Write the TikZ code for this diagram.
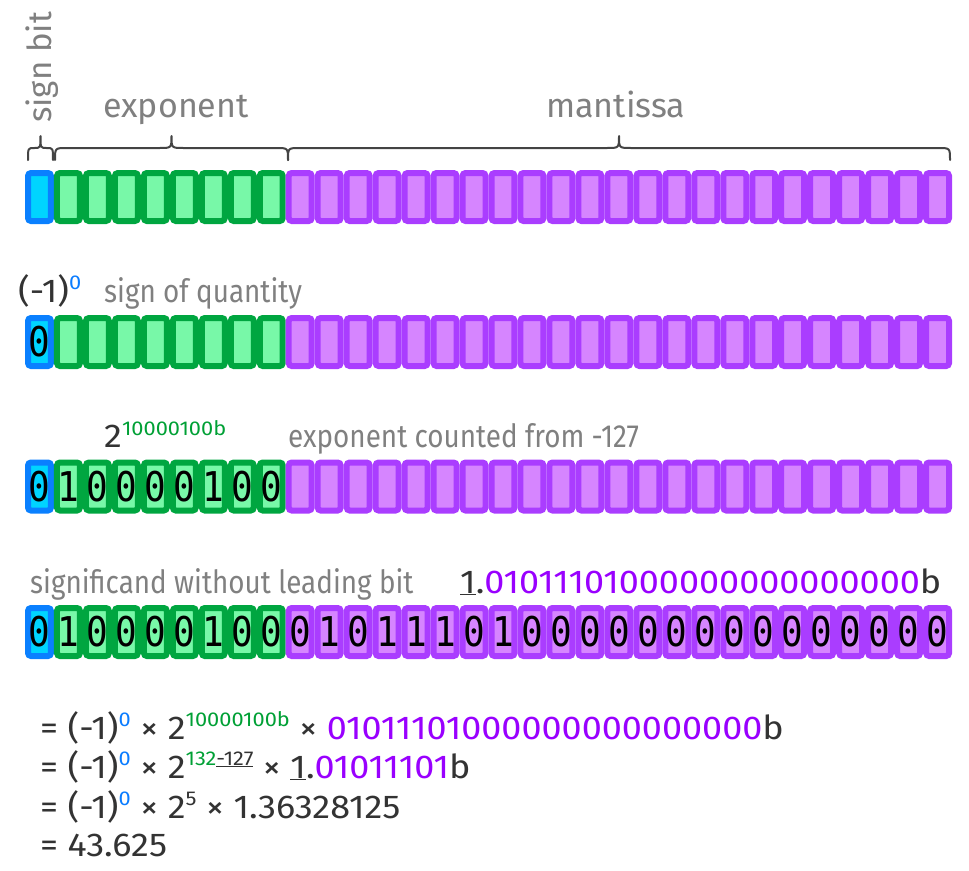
\documentclass[tikz,border=0pt]{standalone}
\usepackage{fontspec}
\setmainfont{Fira Sans}
\newfontfamily\bitfont[FakeStretch=0.88]{DejaVu Sans Mono}
\newfontfamily\eqfont[FakeStretch=1.09]{Fira Sans}
\newfontfamily\labfont[FakeStretch=0.87]{Fira Sans}
\definecolor{signD}{HTML}{0A80FF}
\definecolor{signL}{HTML}{00D4FF}
\definecolor{expD}{HTML}{00A640}
\definecolor{expL}{HTML}{78F8A8}
\definecolor{manD}{HTML}{AA3DFF}
\definecolor{manL}{HTML}{D685FF}
\definecolor{txt}{HTML}{333333}
\definecolor{lbl}{HTML}{808080}
\definecolor{bluet}{HTML}{0A7CFF}
\definecolor{greent}{HTML}{00A035}
\definecolor{purpt}{HTML}{9900FF}
\definecolor{brc}{HTML}{444444}
\newcommand\mysup[3][13pt]{\raisebox{#1}{\fontsize{20}{20}\selectfont\textcolor{#2}{#3}}}
\newcommand\bitchar[1]{\if#1n\else#1\fi}
\tikzset{
 cell/.style={minimum width=22.97pt, minimum height=48pt, inner sep=0pt, line width=6pt, rounded corners=3pt, font=\bitfont\fontsize{41}{41}\selectfont, text=black},
 signcell/.style={cell, draw=signD, fill=signL},
 expcell/.style={cell, draw=expD, fill=expL},
 mancell/.style={cell, draw=manD, fill=manL},
 toplab/.style={inner sep=0pt, anchor=base west, text=lbl, font=\fontsize{34}{40}\selectfont},
 lab/.style={inner sep=0pt, anchor=base west, text=lbl, font=\labfont\fontsize{32}{40}\selectfont},
 eq/.style={inner sep=0pt, anchor=base west, text=txt, font=\eqfont\fontsize{33}{40}\selectfont},
 bracestyle/.style={draw=brc, line width=2pt, line cap=round, line join=round}
}
\newcommand\bitrow[5]{%
 \node[signcell] (#1s) at ({25+0.5*28.97},#2) {\bitchar{#3}};
 \foreach \b [count=\i] in {#4} \node[expcell] (#1e\i) at ({25+(\i+0.5)*28.97},#2) {\bitchar{\b}};
 \foreach \b [count=\i] in {#5} \node[mancell] (#1m\i) at ({25+(\i+8.5)*28.97},#2) {\bitchar{\b}};
}
\newcommand\mybrace[3]{%
 \pgfmathsetmacro\xm{(#1+#2)/2}
 \draw[bracestyle] (#1,160) .. controls (#1,148) .. ({#1+#3},148) -- ({\xm-#3},148) .. controls (\xm,148) .. (\xm,136) .. controls (\xm,148) .. ({\xm+#3},148) -- ({#2-#3},148) .. controls (#2,148) .. (#2,160);
}
\begin{document}
\begin{tikzpicture}[x=1pt,y=-1pt]
\useasboundingbox (0,0) rectangle (969,870);
% row 1
\bitrow{a}{197}{n}{n,n,n,n,n,n,n,n}{n,n,n,n,n,n,n,n,n,n,n,n,n,n,n,n,n,n,n,n,n,n,n}
\node[toplab, rotate=90, font=\fontsize{33}{40}\selectfont] (signbit) at (51,123) {sign bit};
\node[toplab] (explab) at (103,117) {exponent};
\node[toplab] (manlab) at (546,117) {mantissa};
\mybrace{28}{53}{6}
\mybrace{55}{288}{12}
\mybrace{288}{950}{12}
% row 2
\bitrow{b}{342}{0}{n,n,n,n,n,n,n,n}{n,n,n,n,n,n,n,n,n,n,n,n,n,n,n,n,n,n,n,n,n,n,n}
\node[eq] (minus1) at (18,302) {(-1)\mysup{bluet}{0}};
\node[lab] (signq) at (104,302) {sign of quantity};
% row 3
\bitrow{c}{486.5}{0}{1,0,0,0,0,1,0,0}{n,n,n,n,n,n,n,n,n,n,n,n,n,n,n,n,n,n,n,n,n,n,n}
\node[eq] (two) at (104,447) {2\mysup[12pt]{greent}{10000100b}};
\node[lab] (expcnt) at (288,447) {exponent counted from -127};
% row 4
\bitrow{d}{632}{0}{1,0,0,0,0,1,0,0}{0,1,0,1,1,1,0,1,0,0,0,0,0,0,0,0,0,0,0,0,0,0,0}
\node[lab] (signif) at (30,593) {significand without leading bit};
\node[eq] (mant) at (460,593) {\underline{1}.\textcolor{purpt}{01011101000000000000000}b};
% equations
\node[eq] (l1) at (40,739) {= (-1)\mysup{bluet}{0} × 2\mysup{greent}{10000100b} × \textcolor{purpt}{01011101000000000000000}b};
\node[eq] (l2) at (40,778) {= (-1)\mysup{bluet}{0} × 2\mysup{greent}{132}\mysup{txt}{\underline{-127}} × \underline{1}.\textcolor{purpt}{01011101}b};
\node[eq] (l3) at (40,818) {= (-1)\mysup{bluet}{0} × 2\mysup{txt}{5} × 1.36328125};
\node[eq] (l4) at (40,856) {= 43.625};
\end{tikzpicture}
\end{document}
